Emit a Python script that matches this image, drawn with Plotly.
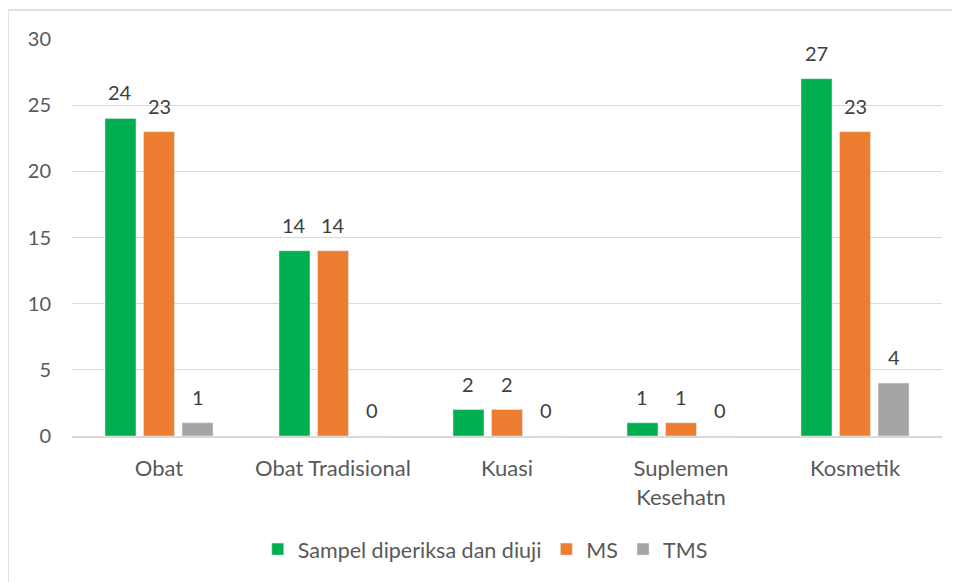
import plotly.graph_objects as go

categories = ["Obat", "Obat Tradisional", "Kuasi", "Suplemen<br>Kesehatn", "Kosmetik"]
sampel = [24, 14, 2, 1, 27]
ms = [23, 14, 2, 1, 23]
tms = [1, 0, 0, 0, 4]
y_ticks = [0, 5, 10, 15, 20, 25, 30]

series = [
    ("Sampel diperiksa dan diuji", sampel, "#00B050"),
    ("MS", ms, "#ED7D31"),
    ("TMS", tms, "#A5A5A5"),
]

FONT = "Lato, Open Sans, sans-serif"
TXT = "#595959"
FS = 20
BARGAP = 0.336

L, T, PW, PH = 64, 31, 870, 397
fig = go.Figure()
slot = PW / len(categories) * (1 - BARGAP) / len(series)
annotations = []
for i, (name, vals, col) in enumerate(series):
    fig.add_trace(go.Bar(
        x=categories, y=vals, name=name, marker_color=col, cliponaxis=False,
    ))
    for c, v in zip(categories, vals):
        annotations.append(dict(
            x=c, y=v, xref="x", yref="y", text=str(v), showarrow=False,
            xshift=(i - 1) * slot, yshift=26, yanchor="middle",
            font=dict(size=FS, color="#404040", family=FONT),
        ))

fig.update_layout(
    width=960, height=582,
    margin=dict(l=L, r=960 - L - PW, t=T, b=582 - T - PH),
    paper_bgcolor="white", plot_bgcolor="white",
    barmode="group", bargap=BARGAP, bargroupgap=0.195,
    font=dict(family=FONT, size=FS, color=TXT),
    showlegend=True,
    legend=dict(orientation="h", x=0.475, xanchor="center", y=-0.285, yanchor="middle",
                font=dict(size=21.5, color=TXT), itemwidth=30, traceorder="normal"),
    yaxis=dict(range=[0, 30], tickvals=y_ticks, showgrid=True, gridcolor="#D9D9D9",
               gridwidth=1, zeroline=False, showline=False, ticks="",
               ticklabelstandoff=20, tickfont=dict(size=FS, color=TXT)),
    xaxis=dict(showline=True, linecolor="#D9D9D9", linewidth=1.5, ticks="",
               ticklabelstandoff=12, tickfont=dict(size=22, color=TXT)),
    annotations=annotations,
    shapes=[dict(type="rect", xref="paper", yref="paper",
                 x0=-L / PW, x1=1 + 60 / PW, y0=-170 / PH, y1=1 + 29 / PH,
                 line=dict(color="#D9D9D9", width=1.5), fillcolor="rgba(0,0,0,0)")],
)

fig.write_html("out.html")
